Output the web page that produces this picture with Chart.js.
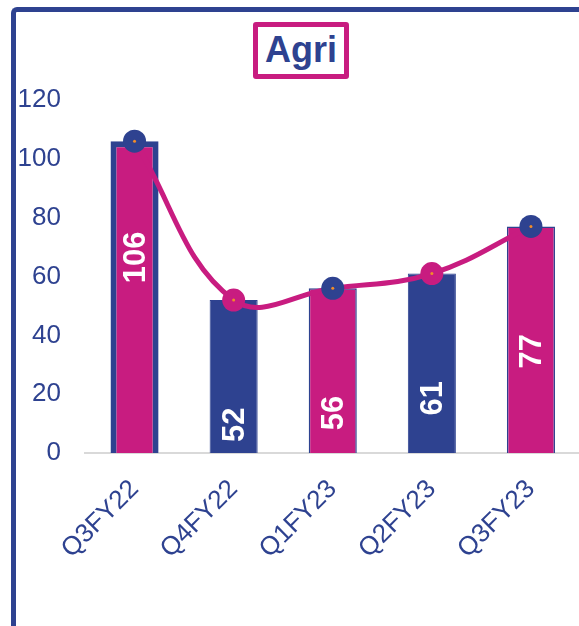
<!DOCTYPE html>
<html>
<head>
<meta charset="utf-8">
<script src="https://cdn.jsdelivr.net/npm/chart.js@4"></script>
<style>
  html, body { margin: 0; padding: 0; background: #fff; overflow: hidden; }
  #wrap { position: relative; width: 579px; height: 626px; overflow: hidden; }
  #frame { position: absolute; left: 11px; top: 7px; width: 700px; height: 700px;
           border-left: 5px solid #2E4290; border-top: 5px solid #2E4290; border-radius: 6px 0 0 0; box-sizing: border-box; }
  #title { position: absolute; left: 253px; top: 22px; width: 96px; height: 57px; box-sizing: border-box;
           border: 5px solid #C81C80; border-radius: 3px; color: #2E4290;
           font: bold 36px "Liberation Sans", Arial, sans-serif; text-align: center; line-height: 46px; background: #fff; }
  canvas { position: absolute; left: 0; top: 0; }
</style>
</head>
<body>
<div id="wrap">
  <div id="frame"></div>
  <canvas id="c" width="592" height="626"></canvas>
  <div id="title">Agri</div>
</div>
<script>
const categories = ["Q3FY22", "Q4FY22", "Q1FY23", "Q2FY23", "Q3FY23"];
const barValues = [106, 52, 56, 61, 77];
const lineValues = [106, 52, 56, 61, 77];
const yTicks = [0, 20, 40, 60, 80, 100, 120];

const BLUE = "#2E4290";
const MAGENTA = "#C81C80";
const ORANGE = "#F28C28";
const barColors = [MAGENTA, BLUE, MAGENTA, BLUE, MAGENTA];
const pointColors = [BLUE, MAGENTA, BLUE, MAGENTA, BLUE];

const barLabelPlugin = {
  id: "barLabels",
  afterDatasetsDraw(chart) {
    const meta = chart.getDatasetMeta(0);
    const ctx = chart.ctx;
    ctx.save();
    ctx.fillStyle = "#ffffff";
    ctx.font = 'bold 31px "Liberation Sans", Arial, sans-serif';
    ctx.textAlign = "left";
    ctx.textBaseline = "middle";
    meta.data.forEach((el, i) => {
      ctx.save();
      ctx.translate(el.x + 2, el.y + 142);
      ctx.rotate(-Math.PI / 2);
      ctx.fillText(String(barValues[i]), 0, 0);
      ctx.restore();
    });
    ctx.restore();
  }
};

new Chart(document.getElementById("c"), {
  data: {
    labels: categories,
    datasets: [
      {
        type: "bar",
        data: barValues,
        backgroundColor: barColors,
        borderColor: BLUE,
        borderWidth: [6, 1, 1.5, 1, 1.5],
        barPercentage: 0.485,
        categoryPercentage: 1,
        order: 3
      },
      {
        type: "line",
        data: lineValues,
        borderColor: MAGENTA,
        borderWidth: 5,
        tension: 0.4,
        pointRadius: 11.5,
        pointBackgroundColor: pointColors,
        pointBorderColor: pointColors,
        pointBorderWidth: 0,
        order: 2
      },
      {
        type: "line",
        data: lineValues,
        showLine: false,
        pointRadius: 1.5,
        pointBackgroundColor: ORANGE,
        pointBorderColor: ORANGE,
        pointBorderWidth: 0,
        order: 1
      }
    ]
  },
  options: {
    responsive: false,
    animation: false,
    layout: { padding: { top: 100, left: 0, right: 0, bottom: 0 } },
    plugins: { legend: { display: false }, tooltip: { enabled: false }, title: { display: false } },
    scales: {
      x: {
        grid: { display: false, drawTicks: false },
        border: { display: true, color: "#D9D9D9", width: 2 },
        ticks: {
          color: BLUE,
          font: { family: '"Liberation Sans", Arial, sans-serif', size: 26 },
          maxRotation: 45, minRotation: 45, padding: 21, autoSkip: false
        },
        afterFit: s => { s.height = 173; }
      },
      y: {
        min: 0, max: 120,
        grid: { display: false, drawTicks: false },
        border: { display: false },
        afterBuildTicks: s => { s.ticks = yTicks.map(v => ({ value: v })); },
        ticks: {
          color: BLUE,
          font: { family: '"Liberation Sans", Arial, sans-serif', size: 26 },
          padding: 24
        },
        afterFit: s => { s.width = 85; }
      }
    }
  },
  plugins: [barLabelPlugin]
});
</script>
</body>
</html>
